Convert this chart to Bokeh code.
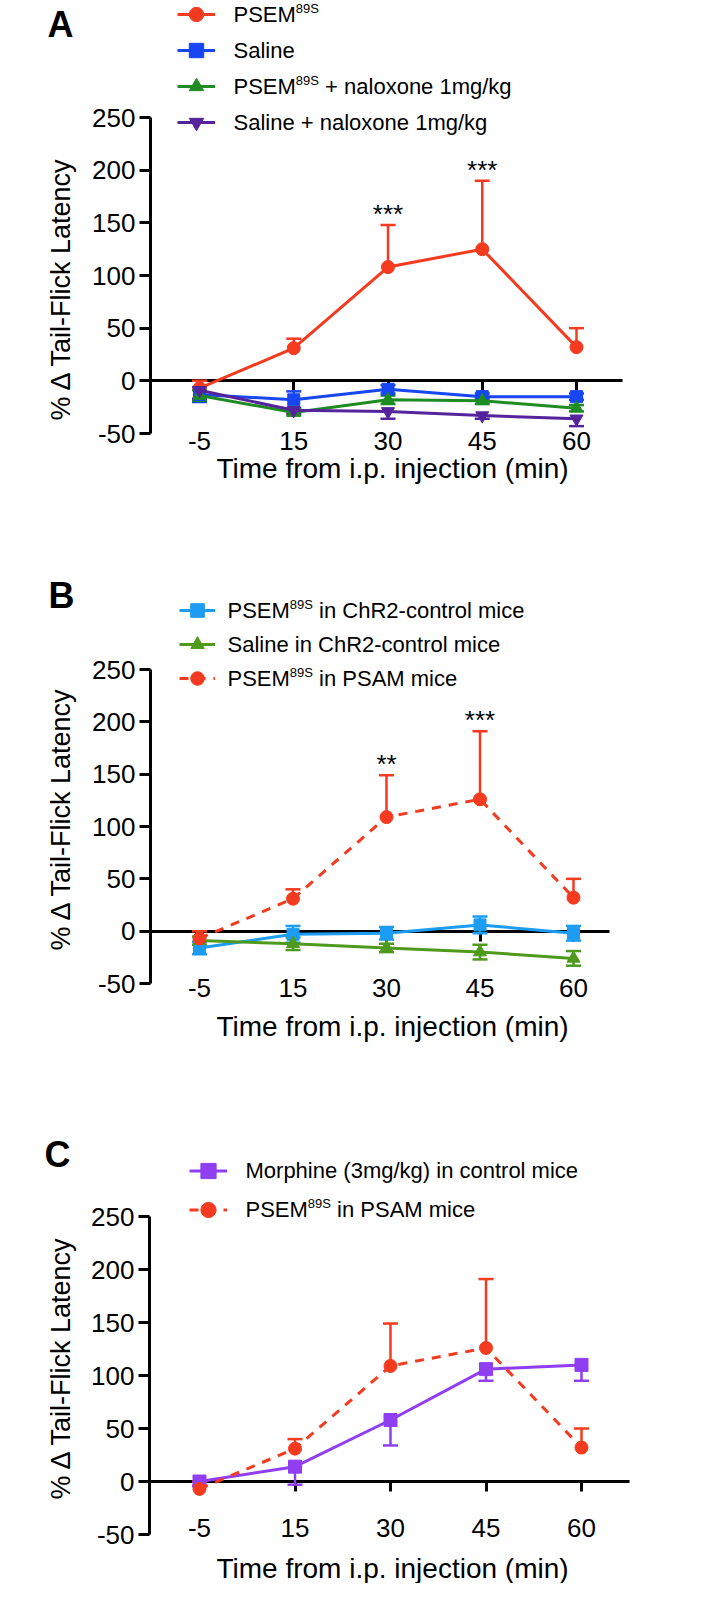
import math
from bokeh.plotting import figure
from bokeh.models import (Range1d, FixedTicker, LinearAxis, Whisker, TeeHead,
                          ColumnDataSource, Legend, LegendItem, Label)
from bokeh.layouts import column
from bokeh.embed import file_html
from bokeh.resources import INLINE
from bokeh.core.properties import value

FONT = "Liberation Sans"

# ---------------- data ----------------
times = ["-5", "15", "30", "45", "60"]
y_ticks = [-50, 0, 50, 100, 150, 200, 250]
y_tick_labels = ["-50", "0", "50", "100", "150", "200", "250"]

# Panel A
a_psem = [-7, 31, 108, 125, 32]
a_psem_up = [7, 9, 40, 65, 18]
a_saline = [-13, -18, -8, -15, -15]
a_saline_err = [7, 8, 4, 3, 3]
a_psem_nal = [-14, -30, -18, -19, -26]
a_psem_nal_err = [5, 3, 4, 3, 3]
a_saline_nal = [-9, -28, -29, -33, -36]
a_saline_nal_dn = [8, 3, 7, 3, 7]
a_stars = ["", "", "***", "***", ""]

# Panel B
b_psem_chr2 = [-16, -3, -2, 6, -2]
b_psem_chr2_err = [6, 8, 6, 8, 7]
b_saline_chr2 = [-9, -12, -16, -20, -26]
b_saline_chr2_err = [4, 6, 4, 7, 7]
b_psem_psam = [-7, 31, 109, 126, 32]
b_psem_psam_up = [7, 9, 40, 65, 18]
b_stars = ["", "", "**", "***", ""]

# Panel C
c_morphine = [0, 14, 58, 106, 110]
c_morphine_dn = [4, 17, 24, 11, 15]
c_psem_psam = [-7, 31, 109, 126, 32]
c_psem_psam_up = [7, 9, 40, 65, 18]
c_stars = ["", "", "", "", ""]

ZERO = [0, 0, 0, 0, 0]

Y_TITLE = "% Δ Tail-Flick Latency"
X_TITLE = "Time from i.p. injection (min)"

# Arial/Liberation Sans advance widths (em) for placing superscripts
AW = {'P': .667, 'S': .667, 'E': .667, 'M': .833, '8': .556, '9': .556, ' ': .278}

MARGIN = 8
FIG_W = 700


def tw(s, size):
    return sum(AW[c] for c in s) * size


def panel(letter, g, series, stars, star_vals, star_up, leg):
    ftop, fbot = g["fig"]
    T, B, L, R = g["T"], g["B"], g["L"], g["R"]
    X0, sp = 207, g["sp"]
    k = (B - T) / 300.0
    xs = list(range(len(times)))

    def xd(px):  # page px -> data x
        return (px - X0) / sp

    def yd(py):  # page py -> data y
        return -50 + (B - py) / k

    def scr(px, py):  # page -> screen coords of this figure's frame
        return px - MARGIN, fbot - py

    p = figure(width=FIG_W, height=fbot - ftop,
               x_range=Range1d(xd(MARGIN), xd(MARGIN + FIG_W)),
               y_range=Range1d(yd(fbot), yd(ftop)),
               x_axis_location=None, y_axis_location=None,
               output_backend="svg", toolbar_location=None,
               min_border=0, min_border_left=0, min_border_right=0,
               min_border_top=0, min_border_bottom=0)
    p.xgrid.visible = False
    p.ygrid.visible = False
    p.outline_line_color = None

    # y axis, bounded to -50..250
    ya = LinearAxis(fixed_location=xd(L), bounds=(-50, 250),
                    ticker=FixedTicker(ticks=y_ticks),
                    major_label_overrides={t: s for t, s in zip(y_ticks, y_tick_labels)},
                    minor_tick_line_color=None, major_tick_out=11, major_tick_in=0,
                    axis_line_width=3, major_tick_line_width=3,
                    major_label_text_font=FONT, major_label_text_font_size="26px",
                    major_label_text_color="black", major_label_standoff=4)
    p.add_layout(ya, "left")

    # zero line with downward ticks
    za = LinearAxis(fixed_location=0, bounds=(xd(L), xd(R)),
                    ticker=FixedTicker(ticks=xs),
                    axis_line_width=3, major_tick_line_width=3,
                    major_tick_out=10, major_tick_in=0,
                    minor_tick_line_color=None,
                    major_label_text_font_size="0px",
                    major_label_text_color=None, level="underlay")
    p.add_layout(za, "below")

    # x tick labels below the plot
    xa = LinearAxis(fixed_location=-50, ticker=FixedTicker(ticks=xs),
                    major_label_overrides={i: t for i, t in zip(xs, times)},
                    axis_line_color=None, major_tick_line_color=None,
                    minor_tick_line_color=None, major_tick_out=0, major_tick_in=0,
                    major_label_text_font=FONT, major_label_text_font_size="26px",
                    major_label_text_color="black",
                    major_label_standoff=int(g["xlab_y"] - B - 11))
    p.add_layout(xa, "below")

    items = []
    for s in series:
        vals, up, dn, color, marker, size, dash = s["data"]
        upper = [v + e for v, e in zip(vals, up)]
        lower = [v - e for v, e in zip(vals, dn)]
        src = ColumnDataSource(dict(x=xs, y=vals, upper=upper, lower=lower))
        has_up = any(e > 0 for e in up)
        has_dn = any(e > 0 for e in dn)
        w = Whisker(base="x", upper="upper", lower="lower", source=src,
                    line_color=color, line_width=2.5,
                    upper_head=TeeHead(size=15, line_color=color, line_width=2.5) if has_up else None,
                    lower_head=TeeHead(size=15, line_color=color, line_width=2.5) if has_dn else None)
        p.add_layout(w)
        ln = p.line("x", "y", source=src, line_color=color, line_width=3, line_dash=dash)
        sc = p.scatter("x", "y", source=src, marker=marker, size=size,
                       fill_color=color, line_color=color)
        items.append(LegendItem(label="", renderers=[ln, sc]))

    # significance stars above the error caps
    sy = [v + e for v, e in zip(star_vals, star_up)]
    ssrc = ColumnDataSource(dict(x=xs, y=sy, t=stars))
    p.text("x", "y", text="t", source=ssrc, text_font=value(FONT),
           text_font_size="26px", text_align="center", text_baseline="alphabetic",
           text_color="black", y_offset=-11)

    # axis titles
    tx, ty = scr(68, g["ytitle_y"])
    p.add_layout(Label(x=tx, y=ty, x_units="screen", y_units="screen", text=Y_TITLE,
                       angle=math.pi / 2, text_font=FONT, text_font_size="27px",
                       text_align="center", text_baseline="middle", text_color="black"))
    tx, ty = scr(400, g["xtitle_y"])
    p.add_layout(Label(x=tx, y=ty, x_units="screen", y_units="screen", text=X_TITLE,
                       text_font=FONT, text_font_size="28px",
                       text_align="center", text_baseline="middle", text_color="black"))

    # legend (glyph samples) + texts
    n = len(series)
    lh = leg["lh"]
    legend_bottom = leg["cy"] - lh / 2 + n * lh
    lg = Legend(items=items, location=scr(leg["gx"], legend_bottom),
                orientation="vertical", glyph_width=leg["gw"], glyph_height=lh,
                label_height=lh, label_width=0, label_standoff=0, spacing=0,
                padding=0, margin=0, border_line_color=None,
                background_fill_alpha=0, label_text_font_size="1px")
    p.add_layout(lg)
    for i, s in enumerate(series):
        main, sup, tail = s["label"]
        x0, y0 = scr(leg["tx"], leg["cy"] + i * lh)
        p.add_layout(Label(x=x0, y=y0, x_units="screen", y_units="screen",
                           text=main, text_font=FONT, text_font_size="22px",
                           text_baseline="middle", text_color="black"))
        if sup:
            wm = tw(main, 22)
            p.add_layout(Label(x=x0 + wm, y=y0 + 6, x_units="screen", y_units="screen",
                               text=sup, text_font=FONT, text_font_size="13px",
                               text_baseline="middle", text_color="black"))
            if tail:
                p.add_layout(Label(x=x0 + wm + tw(sup, 13) + tw(" ", 22), y=y0,
                                   x_units="screen", y_units="screen",
                                   text=tail, text_font=FONT, text_font_size="22px",
                                   text_baseline="middle", text_color="black"))

    # panel letter
    lx, ly = scr(*g["letter"])
    p.add_layout(Label(x=lx, y=ly, x_units="screen", y_units="screen",
                       text=letter, text_font=FONT, text_font_size="36px",
                       text_font_style="bold", text_baseline="alphabetic",
                       text_color="black"))
    return p


RED = "#F43A1F"
A_BLUE = "#1746F2"
A_GREEN = "#1E8C22"
A_PURPLE = "#55249C"
B_BLUE = "#1C9CF2"
B_GREEN = "#4E9A1C"
C_PURPLE = "#8F3EF2"

series_a = [
    dict(data=(a_psem, a_psem_up, ZERO, RED, "circle", 13, "solid"), label=("PSEM", "89S", "")),
    dict(data=(a_saline, a_saline_err, a_saline_err, A_BLUE, "square", 12, "solid"), label=("Saline", "", "")),
    dict(data=(a_psem_nal, a_psem_nal_err, a_psem_nal_err, A_GREEN, "triangle", 13, "solid"),
         label=("PSEM", "89S", "+ naloxone 1mg/kg")),
    dict(data=(a_saline_nal, ZERO, a_saline_nal_dn, A_PURPLE, "inverted_triangle", 13, "solid"),
         label=("Saline + naloxone 1mg/kg", "", "")),
]
series_b = [
    dict(data=(b_psem_chr2, b_psem_chr2_err, b_psem_chr2_err, B_BLUE, "square", 12, "solid"),
         label=("PSEM", "89S", "in ChR2-control mice")),
    dict(data=(b_saline_chr2, b_saline_chr2_err, b_saline_chr2_err, B_GREEN, "triangle", 13, "solid"),
         label=("Saline in ChR2-control mice", "", "")),
    dict(data=(b_psem_psam, b_psem_psam_up, ZERO, RED, "circle", 13, "9 8"),
         label=("PSEM", "89S", "in PSAM mice")),
]
series_c = [
    dict(data=(c_morphine, ZERO, c_morphine_dn, C_PURPLE, "square", 13, "solid"),
         label=("Morphine (3mg/kg) in control mice", "", "")),
    dict(data=(c_psem_psam, c_psem_psam_up, ZERO, RED, "circle", 13, "9 8"),
         label=("PSEM", "89S", "in PSAM mice")),
]

geo_a = dict(fig=(8, 528), T=125, B=441, L=158, R=630, sp=94.25,
             xlab_y=450, xtitle_y=476, ytitle_y=296, letter=(55, 32))
geo_b = dict(fig=(528, 1064), T=677, B=991, L=158, R=617, sp=93.5,
             xlab_y=997, xtitle_y=1034, ytitle_y=826, letter=(56, 603))
geo_c = dict(fig=(1064, 1591), T=1224, B=1542, L=157, R=637, sp=95.5,
             xlab_y=1537, xtitle_y=1576, ytitle_y=1375, letter=(52, 1162))

pa = panel("A", geo_a, series_a, a_stars, a_psem, a_psem_up,
           dict(gx=185, gw=38, tx=241, cy=22, lh=36))
pb = panel("B", geo_b, series_b, b_stars, b_psem_psam, b_psem_psam_up,
           dict(gx=187, gw=36, tx=235, cy=618, lh=34))
pc = panel("C", geo_c, series_c, c_stars, c_psem_psam, c_psem_psam_up,
           dict(gx=197, gw=38, tx=253, cy=1178, lh=39))

layout = column(pa, pb, pc, spacing=0)
open("out.html", "w").write(file_html(layout, INLINE))
